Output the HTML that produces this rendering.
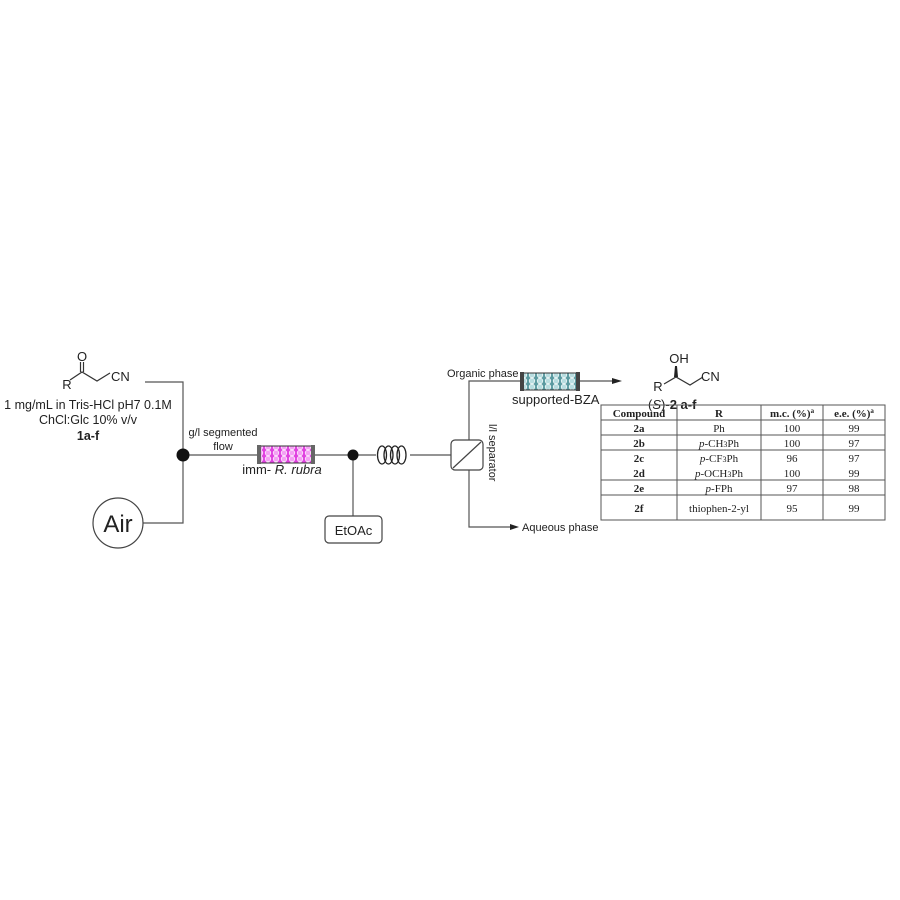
<!DOCTYPE html>
<html><head><meta charset="utf-8"><style>
html,body{margin:0;padding:0;background:#fff}
svg{display:block}
text{font-family:"Liberation Sans",sans-serif;fill:#222}
.s{font-family:"Liberation Serif",serif}
</style></head><body>
<svg width="900" height="900" viewBox="0 0 900 900" xmlns="http://www.w3.org/2000/svg">
<defs>
<pattern id="pb" width="8" height="6" patternUnits="userSpaceOnUse">
<rect width="8" height="6" fill="#e040e0"/><circle cx="4" cy="3" r="2.8" fill="#f4a0f4" stroke="#fff" stroke-width="0.6"/>
</pattern>
<pattern id="gb" width="8" height="6" patternUnits="userSpaceOnUse">
<rect width="8" height="6" fill="#5a9aa0"/><circle cx="4" cy="3" r="2.8" fill="#b8dde0" stroke="#fff" stroke-width="0.6"/>
</pattern>
</defs>
<g stroke="#555" stroke-width="1.2" fill="none">
<polyline points="70,380 82,372 97,381 110,373" stroke="#333"/>
<line x1="80.5" y1="362" x2="80.5" y2="372" stroke="#333"/>
<line x1="83.5" y1="362" x2="83.5" y2="372" stroke="#333"/>
<polyline points="145,382 183,382 183,523 143,523"/>
<line x1="183" y1="455" x2="258" y2="455"/>
<line x1="314" y1="455" x2="376" y2="455"/>
<line x1="353" y1="455" x2="353" y2="516"/>
<line x1="410" y1="455" x2="451" y2="455"/>
<polyline points="521,381 469,381 469,440"/>
<polyline points="469,470 469,527 510,527"/>
<line x1="579" y1="381" x2="614" y2="381"/>
</g>
<polygon points="510,524 519,527 510,530" fill="#222"/>
<polygon points="612,378 622,381 612,384" fill="#222"/>
<circle cx="183" cy="455" r="6.5" fill="#111"/>
<circle cx="353" cy="455" r="5.5" fill="#111"/>
<circle cx="118" cy="523" r="25" fill="#fff" stroke="#444" stroke-width="1.2"/>
<text x="118" y="532" font-size="24" text-anchor="middle">Air</text>
<rect x="325" y="516" width="57" height="27" rx="4" fill="#fff" stroke="#444" stroke-width="1.2"/>
<text x="353.5" y="535" font-size="13" text-anchor="middle">EtOAc</text>
<rect x="260" y="446" width="52" height="17" fill="url(#pb)" stroke="#333"/>
<rect x="257" y="445" width="4" height="19" fill="#666"/>
<rect x="311" y="445" width="4" height="19" fill="#666"/>
<rect x="523" y="373" width="54" height="17" fill="url(#gb)" stroke="#333"/>
<rect x="520" y="372" width="4" height="19" fill="#444"/>
<rect x="576" y="372" width="4" height="19" fill="#444"/>
<g stroke="#222" stroke-width="1.3" fill="none">
<ellipse cx="382" cy="455" rx="4.5" ry="9"/><ellipse cx="388.5" cy="455" rx="4.5" ry="9"/>
<ellipse cx="395" cy="455" rx="4.5" ry="9"/><ellipse cx="401.5" cy="455" rx="4.5" ry="9"/>
</g>
<rect x="451" y="440" width="32" height="30" rx="4" fill="#fff" stroke="#444" stroke-width="1.2"/>
<line x1="453" y1="468" x2="481" y2="442" stroke="#444" stroke-width="1.2"/>
<text transform="translate(489,424) rotate(90)" font-size="11">l/l separator</text>
<text x="82" y="361" font-size="13" text-anchor="middle">O</text>
<text x="67" y="389" font-size="13" text-anchor="middle">R</text>
<text x="111" y="381" font-size="13">CN</text>
<text x="88" y="409" font-size="12.5" text-anchor="middle">1 mg/mL in Tris-HCl pH7 0.1M</text>
<text x="88" y="424" font-size="12.5" text-anchor="middle">ChCl:Glc  10% v/v</text>
<text x="88" y="440" font-size="12.5" text-anchor="middle" font-weight="bold">1a-f</text>
<text x="223" y="436" font-size="11" text-anchor="middle">g/l segmented</text>
<text x="223" y="450" font-size="11" text-anchor="middle">flow</text>
<text x="282" y="474" font-size="13" text-anchor="middle">imm- <tspan font-style="italic">R. rubra</tspan></text>
<text x="447" y="377" font-size="11">Organic phase</text>
<text x="512" y="404" font-size="13">supported-BZA</text>
<text x="522" y="531" font-size="11">Aqueous phase</text>
<polyline points="664,384 676,377 690,385 703,377" fill="none" stroke="#333" stroke-width="1.2"/>
<polygon points="675,366 677,366 678,377 674,377" fill="#222"/>
<text x="679" y="363" font-size="13" text-anchor="middle">OH</text>
<text x="658" y="391" font-size="13" text-anchor="middle">R</text>
<text x="701" y="381" font-size="13">CN</text>
<text x="648" y="409" font-size="13">(<tspan font-style="italic">S</tspan>)-<tspan font-weight="bold">2 a-f</tspan></text>
<g stroke="#555" stroke-width="1" fill="none">
<rect x="601" y="405" width="284" height="115"/>
<line x1="677" y1="405" x2="677" y2="520"/><line x1="761" y1="405" x2="761" y2="520"/><line x1="823" y1="405" x2="823" y2="520"/>
<line x1="601" y1="420" x2="885" y2="420"/><line x1="601" y1="435" x2="885" y2="435"/>
<line x1="601" y1="450" x2="885" y2="450"/><line x1="601" y1="480" x2="885" y2="480"/>
<line x1="601" y1="495" x2="885" y2="495"/>
</g>
<g class="s" font-size="11" text-anchor="middle">
<text class="s" x="639" y="417" font-weight="bold">Compound</text>
<text class="s" x="719" y="417" font-weight="bold">R</text>
<text class="s" x="792" y="417" font-weight="bold">m.c. (%)<tspan font-size="7" dy="-4">a</tspan></text>
<text class="s" x="854" y="417" font-weight="bold">e.e. (%)<tspan font-size="7" dy="-4">a</tspan></text>
<text class="s" x="639" y="432" font-weight="bold">2a</text><text class="s" x="719" y="432">Ph</text><text class="s" x="792" y="432">100</text><text class="s" x="854" y="432">99</text>
<text class="s" x="639" y="447" font-weight="bold">2b</text><text class="s" x="719" y="447"><tspan font-style="italic">p</tspan>-CH<tspan font-size="8">3</tspan>Ph</text><text class="s" x="792" y="447">100</text><text class="s" x="854" y="447">97</text>
<text class="s" x="639" y="462" font-weight="bold">2c</text><text class="s" x="719" y="462"><tspan font-style="italic">p</tspan>-CF<tspan font-size="8">3</tspan>Ph</text><text class="s" x="792" y="462">96</text><text class="s" x="854" y="462">97</text>
<text class="s" x="639" y="477" font-weight="bold">2d</text><text class="s" x="719" y="477"><tspan font-style="italic">p</tspan>-OCH<tspan font-size="8">3</tspan>Ph</text><text class="s" x="792" y="477">100</text><text class="s" x="854" y="477">99</text>
<text class="s" x="639" y="492" font-weight="bold">2e</text><text class="s" x="719" y="492"><tspan font-style="italic">p</tspan>-FPh</text><text class="s" x="792" y="492">97</text><text class="s" x="854" y="492">98</text>
<text class="s" x="639" y="512" font-weight="bold">2f</text><text class="s" x="719" y="512">thiophen-2-yl</text><text class="s" x="792" y="512">95</text><text class="s" x="854" y="512">99</text>
</g>
</svg>
</body></html>
